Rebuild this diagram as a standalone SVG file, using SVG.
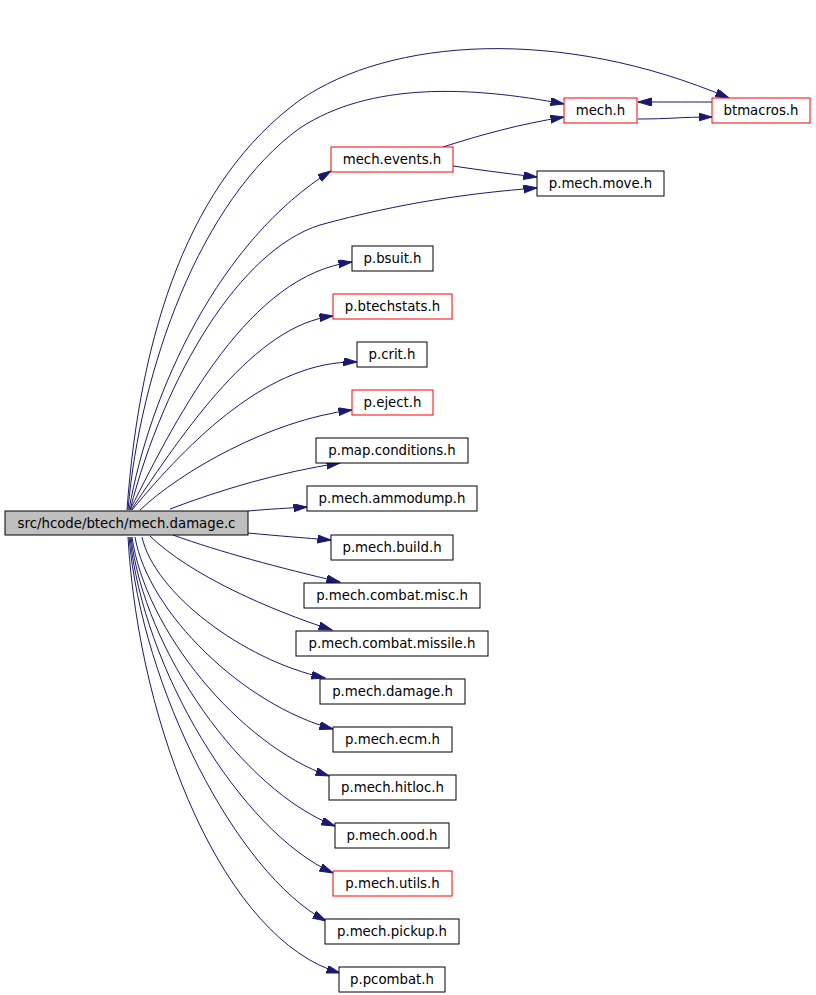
<svg xmlns="http://www.w3.org/2000/svg" width="816" height="995" viewBox="0 0 816 995">
<style>
.n rect{fill:#ffffff;stroke:#000000;stroke-width:1}
.n.r rect{stroke:#ff0000}
.n.m rect{fill:#bfbfbf}
.n text{font-family:"DejaVu Sans",sans-serif;font-size:13.3px;fill:#000000;text-anchor:middle}
#edges path{fill:none;stroke:#191970;stroke-width:1;marker-end:url(#ah)}
</style>
<defs>
<marker id="ah" markerUnits="userSpaceOnUse" markerWidth="15" markerHeight="10" refX="13.5" refY="4" orient="auto">
<path d="M0,0 L13.5,4 L0,8 Z" fill="#191970" stroke="#191970" stroke-width="1"/>
</marker>
</defs>
<rect width="816" height="995" fill="#ffffff"/>
<g id="edges">
<path d="M127,510 C140,330 190,180 300,100 C390,38 560,26 729,98"/>
<path d="M128,510 C140,370 200,200 300,128 C370,82 470,86 564,104"/>
<path d="M129,510 C150,390 220,240 331,171"/>
<path d="M130,510 C165,375 240,250 320,225 C400,203 470,193 537,188"/>
<path d="M130,510 C180,410 250,275 352,262"/>
<path d="M131,510 C185,430 255,325 333,316"/>
<path d="M132,510 C190,440 270,360 357,362"/>
<path d="M140,510 C180,472 270,420 352,410"/>
<path d="M170,509 C220,490 280,472 340,463"/>
<path d="M248,511 C270,509 290,508 307,507"/>
<path d="M248,533 C280,536 305,538 331,540"/>
<path d="M173,535 C220,552 280,568 340,582"/>
<path d="M150,536 C190,575 270,610 332,630"/>
<path d="M142,537 C154,592 242,660 325,678"/>
<path d="M135,537 C148,612 243,705 333,729"/>
<path d="M132,537 C145,630 240,745 329,776"/>
<path d="M131,537 C144,650 242,790 335,826"/>
<path d="M130,537 C143,668 240,831 333,873"/>
<path d="M129,537 C142,687 236,873 326,921"/>
<path d="M128,537 C139,730 225,940 340,973"/>
<path d="M443,147 C480,135 520,124 564,117"/>
<path d="M453,166 C480,170 510,174 537,177"/>
<path d="M638,119 C670,119 680,117 712,117"/>
<path d="M712,102 C680,102 665,102 638,102"/>
</g>
<g id="n_main" class="n m"><rect x="5" y="511" width="243" height="24"/><text x="126.5" y="528">src/hcode/btech/mech.damage.c</text></g>
<g id="n_mech_h" class="n r"><rect x="564" y="98" width="73" height="25"/><text x="600.5" y="115">mech.h</text></g>
<g id="n_btmacros_h" class="n r"><rect x="712" y="98" width="98" height="25"/><text x="761" y="115">btmacros.h</text></g>
<g id="n_mech_events_h" class="n r"><rect x="331" y="147" width="122" height="25"/><text x="392" y="164">mech.events.h</text></g>
<g id="n_p_mech_move_h" class="n"><rect x="537" y="171" width="127" height="25"/><text x="600.5" y="188">p.mech.move.h</text></g>
<g id="n_p_bsuit_h" class="n"><rect x="352" y="246" width="81" height="25"/><text x="392.5" y="263">p.bsuit.h</text></g>
<g id="n_p_btechstats_h" class="n r"><rect x="333" y="294" width="119" height="25"/><text x="392.5" y="311">p.btechstats.h</text></g>
<g id="n_p_crit_h" class="n"><rect x="357" y="342" width="70" height="25"/><text x="392" y="359">p.crit.h</text></g>
<g id="n_p_eject_h" class="n r"><rect x="352" y="390" width="81" height="25"/><text x="392.5" y="407">p.eject.h</text></g>
<g id="n_p_map_conditions_h" class="n"><rect x="316" y="438" width="152" height="25"/><text x="392" y="455">p.map.conditions.h</text></g>
<g id="n_p_mech_ammodump_h" class="n"><rect x="307" y="486" width="170" height="25"/><text x="392" y="503">p.mech.ammodump.h</text></g>
<g id="n_p_mech_build_h" class="n"><rect x="331" y="535" width="122" height="25"/><text x="392" y="552">p.mech.build.h</text></g>
<g id="n_p_mech_combat_misc_h" class="n"><rect x="304" y="583" width="176" height="25"/><text x="392" y="600">p.mech.combat.misc.h</text></g>
<g id="n_p_mech_combat_missile_h" class="n"><rect x="296" y="631" width="192" height="25"/><text x="392" y="648">p.mech.combat.missile.h</text></g>
<g id="n_p_mech_damage_h" class="n"><rect x="320" y="679" width="145" height="25"/><text x="392.5" y="696">p.mech.damage.h</text></g>
<g id="n_p_mech_ecm_h" class="n"><rect x="333" y="727" width="119" height="25"/><text x="392.5" y="744">p.mech.ecm.h</text></g>
<g id="n_p_mech_hitloc_h" class="n"><rect x="329" y="775" width="127" height="25"/><text x="392.5" y="792">p.mech.hitloc.h</text></g>
<g id="n_p_mech_ood_h" class="n"><rect x="335" y="823" width="114" height="25"/><text x="392" y="840">p.mech.ood.h</text></g>
<g id="n_p_mech_utils_h" class="n r"><rect x="333" y="871" width="119" height="25"/><text x="392.5" y="888">p.mech.utils.h</text></g>
<g id="n_p_mech_pickup_h" class="n"><rect x="325" y="919" width="134" height="25"/><text x="392" y="936">p.mech.pickup.h</text></g>
<g id="n_p_pcombat_h" class="n"><rect x="339" y="967" width="106" height="25"/><text x="392" y="984">p.pcombat.h</text></g>
</svg>
